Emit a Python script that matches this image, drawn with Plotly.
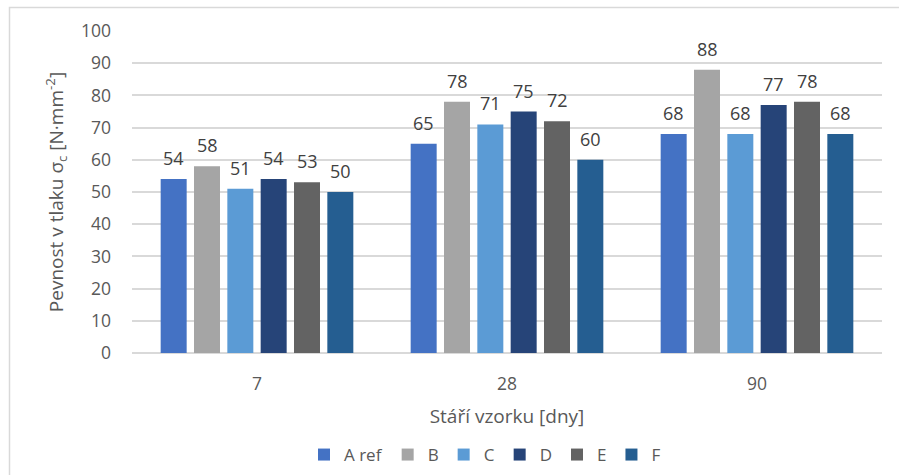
import plotly.graph_objects as go

# Sample age categories and compressive strength per mixture
ages = ["7", "28", "90"]
series_names = ["A ref", "B", "C", "D", "E", "F"]
a_ref = [54, 65, 68]
b = [58, 78, 88]
c = [51, 71, 68]
d = [54, 75, 77]
e = [53, 72, 78]
f = [50, 60, 68]
colors = ["#4472C4", "#A5A5A5", "#5B9BD5", "#264478", "#636363", "#255E91"]
y_ticks = list(range(0, 101, 10))

values = [a_ref, b, c, d, e, f]

FONT = "Open Sans"
TXT = "#595959"

W, H = 899, 475
L, R, T, B = 132, 17, 31, 122
pw, ph = W - L - R, H - T - B
BARGAP = 0.2

fig = go.Figure()
for name, vals, col in zip(series_names, values, colors):
    fig.add_trace(go.Bar(
        x=ages, y=vals, name=name,
        marker=dict(color=col, line=dict(width=0)),
    ))

# value labels above each bar, shifted to the bar's slot inside its group
slot = pw / len(ages) * (1 - BARGAP) / len(series_names)
annotations = []
for i, vals in enumerate(values):
    for j, v in enumerate(vals):
        annotations.append(dict(
            x=j, y=v, xref="x", yref="y", text=str(v), showarrow=False,
            xshift=(i - (len(series_names) - 1) / 2) * slot,
            yanchor="bottom", yshift=7,
            font=dict(family=FONT, size=18, color="#404040"),
        ))


def px(xp):
    return (xp - L) / pw


def py(yp):
    return (H - B - yp) / ph


fig.update_layout(
    width=W, height=H,
    margin=dict(l=L, r=R, t=T, b=B, autoexpand=False),
    paper_bgcolor="white", plot_bgcolor="white",
    barmode="group", bargap=BARGAP, bargroupgap=0.22,
    font=dict(family=FONT, color=TXT),
    xaxis=dict(
        type="category", automargin=False,
        categoryorder="array", categoryarray=ages,
        range=[-0.5, len(ages) - 0.5], autorange=False,
        tickfont=dict(family=FONT, size=17.5, color=TXT),
        showgrid=False, showline=False, ticks="",
        ticklabelstandoff=18,
        title=dict(text="Stáří vzorku [dny]", font=dict(family=FONT, size=19, color=TXT), standoff=16),
    ),
    yaxis=dict(
        range=[0, 100], tickvals=y_ticks, automargin=False,
        tickfont=dict(family=FONT, size=17.5, color=TXT),
        showgrid=True, gridcolor="#D9D9D9", gridwidth=2,
        zeroline=True, zerolinecolor="#D9D9D9", zerolinewidth=2,
        showline=False, ticks="",
        ticklabelstandoff=20,
        title=dict(text="Pevnost v tlaku σ<sub>c</sub> [N·mm<sup>-2</sup>]",
                   font=dict(family=FONT, size=19, color=TXT), standoff=12),
    ),
    legend=dict(
        orientation="h", xref="container", yref="container",
        x=485 / W, xanchor="center", y=(H - 455) / H, yanchor="middle",
        font=dict(family=FONT, size=17, color=TXT),
        itemwidth=30, tracegroupgap=0,
    ),
    annotations=annotations,
    shapes=[dict(
        type="path", xref="paper", yref="paper",
        path=f"M {px(9.5)} {py(480)} L {px(9.5)} {py(7.5)} L {px(905)} {py(7.5)}",
        line=dict(color="#D9D9D9", width=1.5), layer="below",
    )],
    showlegend=True,
)

fig.write_html("out.html")
